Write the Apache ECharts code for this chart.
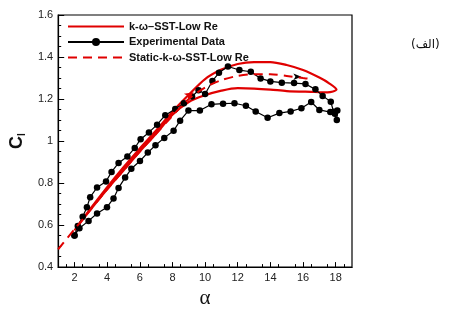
<!DOCTYPE html>
<html>
<head>
<meta charset="utf-8">
<script src="https://cdn.jsdelivr.net/npm/echarts@6/dist/echarts.min.js"></script>
<style>
  html, body { margin: 0; padding: 0; background: #fff; }
  #chart { width: 451px; height: 314px; }
</style>
</head>
<body>
<div id="chart"></div>
<script>
// experimental data (upstroke then downstroke)
var expAlpha = [2.0, 2.2, 2.5, 2.76, 2.96, 3.38, 3.93, 4.27, 4.70, 5.24, 5.69, 6.05, 6.56, 7.06, 7.56, 8.17, 8.7, 9.2, 9.6, 10.0, 10.45, 10.85, 11.4, 12.1, 12.8, 13.4, 14.0, 14.7, 15.45, 16.15, 16.76, 17.2, 17.7, 17.87, 18.07, 18.1, 17.95, 17.67, 17.0, 16.5, 15.9, 15.24, 14.55, 13.83, 13.1, 12.5, 11.8, 11.1, 10.39, 9.68, 8.98, 8.47, 8.07, 7.5, 6.96, 6.49, 6.01, 5.48, 5.10, 4.70, 4.39, 3.99, 3.38, 2.86, 2.3, 2.0];
var expCl = [0.551, 0.596, 0.64, 0.685, 0.733, 0.779, 0.808, 0.853, 0.896, 0.926, 0.967, 1.009, 1.041, 1.078, 1.123, 1.153, 1.18, 1.212, 1.242, 1.224, 1.286, 1.325, 1.355, 1.338, 1.33, 1.298, 1.284, 1.278, 1.276, 1.272, 1.246, 1.215, 1.187, 1.14, 1.10, 1.145, 1.13, 1.138, 1.148, 1.186, 1.156, 1.141, 1.133, 1.111, 1.141, 1.168, 1.18, 1.178, 1.175, 1.145, 1.145, 1.097, 1.049, 1.015, 0.98, 0.945, 0.905, 0.868, 0.826, 0.777, 0.727, 0.685, 0.655, 0.62, 0.585, 0.551];

// k-omega SST low Re (dynamic loop)
var simAlpha = [2.0, 3, 4, 5, 6, 7, 8, 9, 10, 11, 12, 13, 14, 15, 16, 17, 17.6, 18.05, 17.5, 16.5, 15, 14, 13, 12, 11, 10, 9, 8, 7, 6, 5, 4, 3, 2.0];
var simCl = [0.575, 0.68, 0.78, 0.875, 0.965, 1.05, 1.14, 1.22, 1.295, 1.34, 1.367, 1.376, 1.376, 1.362, 1.338, 1.302, 1.275, 1.245, 1.232, 1.234, 1.238, 1.245, 1.25, 1.252, 1.24, 1.218, 1.186, 1.125, 1.035, 0.95, 0.86, 0.77, 0.675, 0.575];

// static k-omega SST low Re
var statAlpha = [1, 2, 3, 4, 5, 6, 7, 8, 9, 10, 11, 12, 13, 14, 15, 16, 16.4];
var statCl = [0.485, 0.58, 0.675, 0.77, 0.86, 0.95, 1.035, 1.12, 1.2, 1.255, 1.29, 1.31, 1.318, 1.318, 1.31, 1.30, 1.296];

var xLabels = [2, 4, 6, 8, 10, 12, 14, 16, 18];
var seriesNames = ['k-\u03c9\u2013SST-Low Re', 'Experimental Data', 'Static-k-\u03c9-SST-Low Re'];

function pairs(a, b) {
  var out = [];
  for (var i = 0; i < a.length; i++) out.push([a[i], b[i]]);
  return out;
}

var chart = echarts.init(document.getElementById('chart'));

var option = {
  animation: false,
  textStyle: { fontFamily: 'Arial, "Liberation Sans", sans-serif' },
  grid: {
    left: 55, right: 99, top: 15, bottom: 30,
    show: true, borderColor: '#000', borderWidth: 1.2
  },
  legend: {
    orient: 'vertical',
    left: 62, top: 16,
    itemWidth: 56, itemHeight: 10, itemGap: 4.5,
    textStyle: { fontSize: 11, fontWeight: 'bold', color: '#111' },
    data: [
      { name: seriesNames[0], itemStyle: { opacity: 0 } },
      { name: seriesNames[1] },
      { name: seriesNames[2], itemStyle: { opacity: 0 } }
    ]
  },
  xAxis: {
    type: 'value', min: 1, max: 19, interval: 2,
    name: '\u03b1', nameLocation: 'middle', nameGap: 19,
    nameTextStyle: { fontSize: 21, fontFamily: '"Liberation Serif", serif', color: '#111' },
    axisLine: { lineStyle: { color: '#000', width: 1.2 } },
    axisTick: { inside: true, length: 5, customValues: xLabels, lineStyle: { color: '#000' } },
    minorTick: { show: true, splitNumber: 4, length: 3, lineStyle: { color: '#000' } },
    axisLabel: { customValues: xLabels, fontSize: 11, color: '#222', margin: 5 },
    splitLine: { show: false }
  },
  yAxis: {
    type: 'value', min: 0.4, max: 1.6, interval: 0.2,
    name: '{a|C}{b|l}', nameLocation: 'middle', nameGap: 30,
    nameTextStyle: {
      rich: {
        a: { fontSize: 18, fontWeight: 'bold', color: '#111' },
        b: { fontSize: 10, fontWeight: 'bold', color: '#111', padding: [10, 0, 0, 0] }
      }
    },
    axisLine: { lineStyle: { color: '#000', width: 1.2 } },
    axisTick: { inside: true, length: 6, lineStyle: { color: '#000' } },
    minorTick: { show: true, splitNumber: 4, length: 3, lineStyle: { color: '#000' } },
    axisLabel: { fontSize: 11, color: '#222', margin: 5 },
    splitLine: { show: false }
  },
  series: [
    {
      name: seriesNames[0],
      type: 'line',
      data: pairs(simAlpha, simCl),
      smooth: 0.3,
      symbol: 'none',
      lineStyle: { color: '#e00000', width: 2.2 },
      itemStyle: { color: '#e00000' },
      z: 3
    },
    {
      name: seriesNames[1],
      type: 'line',
      data: pairs(expAlpha, expCl),
      symbol: 'circle',
      symbolSize: 6.5,
      lineStyle: { color: '#000', width: 1.2 },
      itemStyle: { color: '#000' },
      z: 4
    },
    {
      name: seriesNames[2],
      type: 'line',
      data: pairs(statAlpha, statCl),
      smooth: 0.3,
      symbol: 'none',
      lineStyle: { color: '#e00000', width: 2, type: [9, 6] },
      itemStyle: { color: '#e00000' },
      markPoint: {
        symbol: 'arrow',
        label: { show: false },
        data: [
          { coord: [9.3, 1.232], symbolSize: [6, 9], symbolRotate: -58, itemStyle: { color: '#e00000' } },
          { coord: [15.9, 1.306], symbolSize: [5, 8], symbolRotate: -90, itemStyle: { color: '#000' } }
        ]
      },
      z: 5
    }
  ],
  graphic: [
    {
      type: 'text', left: 411, top: 39,
      style: { text: '(\u0627\u0644\u0641)', font: '12px "DejaVu Sans", sans-serif', fill: '#111' }
    }
  ]
};

chart.setOption(option);
</script>
</body>
</html>
